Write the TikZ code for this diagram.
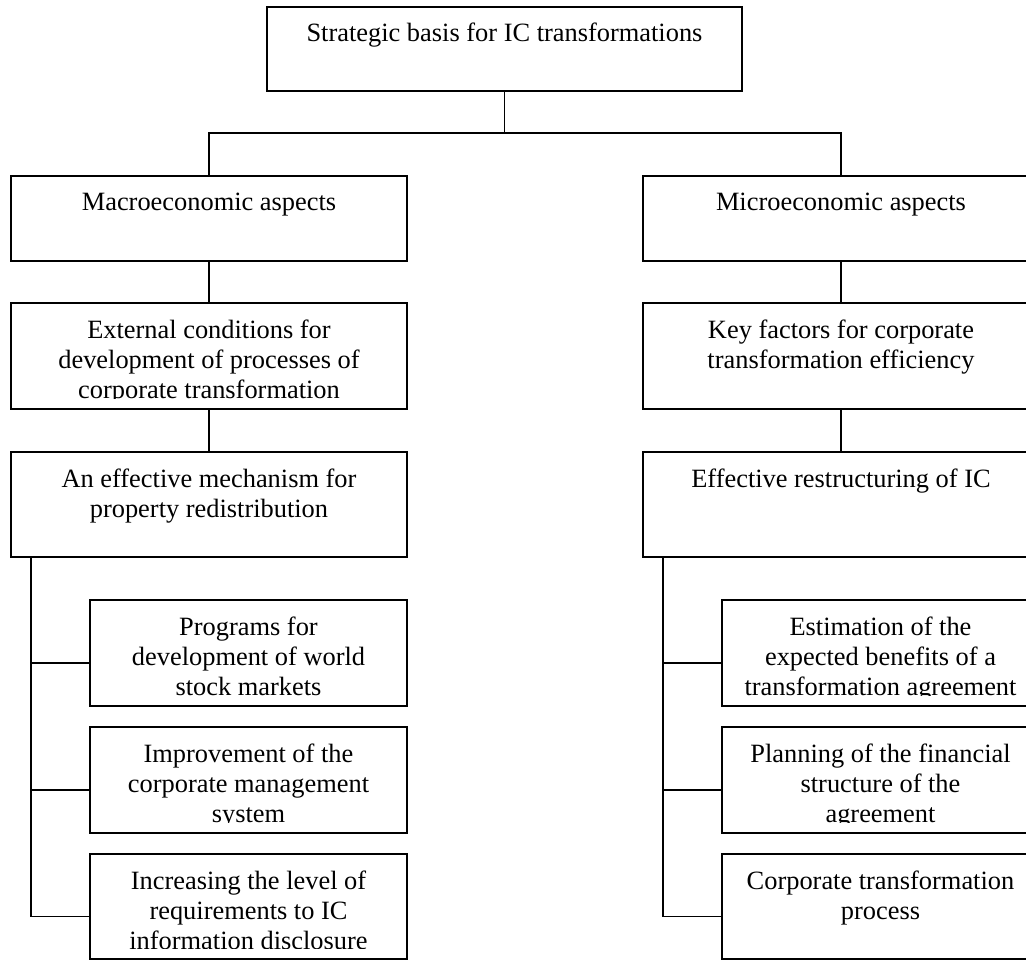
\documentclass[tikz,border=0pt]{standalone}
\usepackage{fontspec}
\setmainfont{Liberation Serif}
\tikzset{
  boxst/.style={draw=black, line width=1.3pt, fill=none, inner sep=0pt, outer sep=0pt, anchor=north west},
  txt/.style={inner sep=0pt, outer sep=0pt, font=\fontsize{26.4}{30}\selectfont, anchor=base},
  link/.style={draw=black, line width=1.3pt}
}
\newcommand\icbox[6]{%
  \node[boxst, minimum width=#4pt, minimum height=#5pt] (#1) at (#2,#3) {};
  \begin{scope}
    \clip (#1.north west) rectangle ([yshift=10.5pt]#1.south east);
    \node[txt] (#1-t) at ([yshift=-35pt]#1.north) {\parbox[t]{#4pt}{\centering #6}};
  \end{scope}}
\begin{document}
\begin{tikzpicture}[x=1pt,y=-1pt]
\useasboundingbox (0,0) rectangle (1026,960);
\clip (0,0) rectangle (1026,960);
\fill[white] (0,0) rectangle (1026,960);
% top
\icbox{top}{267}{7}{475}{84}{Strategic basis for IC transformations}
% level 1
\icbox{macro}{11}{176}{396}{85}{Macroeconomic aspects}
\icbox{micro}{643}{176}{396}{85}{Microeconomic aspects}
% level 2
\icbox{ext}{11}{303}{396}{106}{External conditions for\\development of processes of\\corporate transformation}
\icbox{key}{643}{303}{396}{106}{Key factors for corporate\\transformation efficiency}
% level 3
\icbox{mech}{11}{452}{396}{105}{An effective mechanism for\\property redistribution}
\icbox{restr}{643}{452}{396}{105}{Effective restructuring of IC}
% left sub boxes
\icbox{prog}{90}{600}{317}{106}{Programs for\\development of world\\stock markets}
\icbox{impr}{90}{727}{317}{106}{Improvement of the\\corporate management\\system}
\icbox{incr}{90}{854}{317}{105}{Increasing the level of\\requirements to IC\\information disclosure}
% right sub boxes
\icbox{est}{722}{600}{317}{106}{Estimation of the\\expected benefits of a\\transformation agreement}
\icbox{plan}{722}{727}{317}{106}{Planning of the financial\\structure of the\\agreement}
\icbox{corp}{722}{854}{317}{105}{Corporate transformation\\process}
% connectors
\coordinate (bar) at (top.south |- 0,133);
\draw[link] (top.south) -- (bar);
\draw[link] (macro.north) |- (bar) -| (micro.north);
\draw[link] (macro.south) -- (ext.north);
\draw[link] (ext.south) -- (mech.north);
\draw[link] (micro.south) -- (key.north);
\draw[link] (key.south) -- (restr.north);
% left trunk
\coordinate (ltr) at ([xshift=20pt]mech.south west);
\draw[link] (ltr) |- ([yshift=-10pt]incr.west);
\draw[link] (ltr) |- ([yshift=-10pt]prog.west);
\draw[link] (ltr) |- ([yshift=-10pt]impr.west);
% right trunk
\coordinate (rtr) at ([xshift=20pt]restr.south west);
\draw[link] (rtr) |- ([yshift=-10pt]corp.west);
\draw[link] (rtr) |- ([yshift=-10pt]est.west);
\draw[link] (rtr) |- ([yshift=-10pt]plan.west);
\end{tikzpicture}
\end{document}
